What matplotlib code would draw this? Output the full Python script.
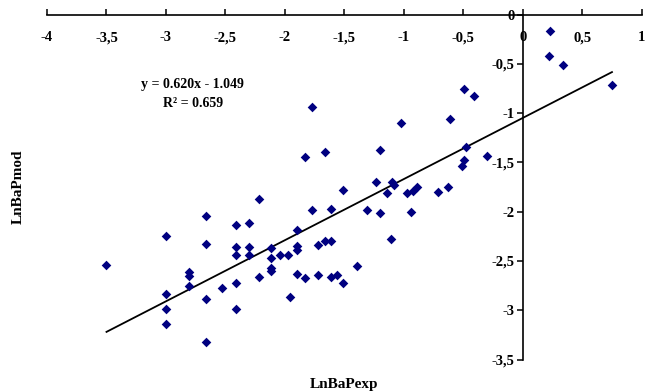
import numpy as np
import matplotlib
matplotlib.use("Agg")
import matplotlib.pyplot as plt
from matplotlib.ticker import FuncFormatter, MultipleLocator

plt.rcParams['font.family'] = ['Liberation Serif', 'DejaVu Serif']
plt.rcParams['font.weight'] = 'bold'

ln_bap_exp = [
    -3.50, -3.00, -3.00, -3.00, -3.00, -2.81, -2.81, -2.81, -2.66, -2.66,
    -2.66, -2.66, -2.53, -2.41, -2.41, -2.41, -2.41, -2.41, -2.30, -2.30,
    -2.30, -2.22, -2.22, -2.12, -2.12, -2.12, -2.12, -2.04, -1.97, -1.96,
    -1.90, -1.90, -1.90, -1.90, -1.83, -1.83, -1.77, -1.77, -1.72, -1.72,
    -1.66, -1.66, -1.61, -1.61, -1.61, -1.56, -1.51, -1.51, -1.39, -1.31,
    -1.23, -1.20, -1.20, -1.14, -1.11, -1.10, -1.08, -1.02, -0.97, -0.94,
    -0.92, -0.89, -0.71, -0.63, -0.61, -0.51, -0.49, -0.48, -0.49, -0.41,
    -0.30, 0.23, 0.22, 0.34, 0.75,
]
ln_bap_mod = [
    -2.54, -2.25, -2.83, -2.99, -3.14, -2.61, -2.65, -2.75, -2.04, -2.33,
    -2.89, -3.32, -2.77, -2.14, -2.36, -2.44, -2.72, -2.99, -2.11, -2.36,
    -2.44, -1.87, -2.66, -2.37, -2.47, -2.57, -2.60, -2.44, -2.44, -2.87,
    -2.19, -2.35, -2.39, -2.63, -2.67, -1.45, -0.94, -1.98, -2.34, -2.64,
    -1.39, -2.30, -1.97, -2.30, -2.66, -2.64, -1.78, -2.72, -2.55, -1.98,
    -1.70, -1.37, -2.01, -1.81, -2.28, -1.70, -1.73, -1.10, -1.81, -2.00,
    -1.79, -1.75, -1.80, -1.75, -1.06, -1.54, -1.48, -1.34, -0.76, -0.83,
    -1.44, -0.17, -0.42, -0.51, -0.71,
]

slope = 0.620
intercept = -1.049
r_squared = 0.659

x = np.array(ln_bap_exp)
y = np.array(ln_bap_mod)

fig = plt.figure(figsize=(6.45, 3.92), dpi=100)
ax = fig.add_axes([0.0729, 0.0827, 0.922, 0.8803])

ax.scatter(x, y, marker='D', s=24, color='#000080', linewidths=0, zorder=3, clip_on=False)

xf = np.array([x.min(), x.max()])
ax.plot(xf, slope * xf + intercept, color='black', lw=1.3, zorder=2)

ax.set_xlim(-4, 1)
ax.set_ylim(-3.5, 0)

# axes cross at the origin, Excel style
ax.spines['left'].set_position(('data', 0))
ax.spines['bottom'].set_position(('data', 0))
ax.spines['top'].set_visible(False)
ax.spines['right'].set_visible(False)
for s in ('left', 'bottom'):
    ax.spines[s].set_linewidth(1.2)

comma = FuncFormatter(lambda v, pos: ('%g' % v).replace('.', ','))
ax.xaxis.set_major_locator(MultipleLocator(0.5))
ax.yaxis.set_major_locator(MultipleLocator(0.5))
ax.xaxis.set_major_formatter(comma)
ax.yaxis.set_major_formatter(comma)
ax.tick_params(axis='x', direction='in', length=4, width=1.1, pad=12, labelsize=10.5)
ax.tick_params(axis='y', direction='out', length=4, width=1.1, pad=2, labelsize=10.5)

ax.set_xlabel('LnBaPexp', fontsize=11, fontweight='bold')
ax.set_ylabel('LnBaPmod', fontsize=11, fontweight='bold')
ax.xaxis.set_label_coords(0.5, -0.053)
ax.yaxis.set_label_coords(-0.038, 0.5)

ax.text(0.245, 0.796, 'y = %.3fx - %.3f' % (slope, -intercept), transform=ax.transAxes,
        ha='center', va='center', fontsize=10, fontweight='bold')
ax.text(0.245, 0.743, 'R² = %.3f' % r_squared, transform=ax.transAxes,
        ha='center', va='center', fontsize=10, fontweight='bold')

fig.savefig('out.png', dpi=100)
